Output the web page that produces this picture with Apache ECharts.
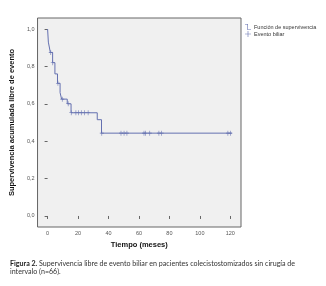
<!DOCTYPE html>
<html>
<head>
<meta charset="utf-8">
<script src="https://cdn.jsdelivr.net/npm/echarts@6/dist/echarts.min.js"></script>
<style>
  html, body { margin: 0; padding: 0; background: #fff; }
  #chart { width: 326px; height: 286px; }
</style>
</head>
<body>
<div id="chart"></div>
<script>
// Kaplan-Meier steps (time in months, survival after the drop)
var stepTimes = [0, 0.5, 1.8, 3.3, 4.8, 6.5, 8.2, 9.2, 12.9, 15.4, 32.6, 35.4, 121];
var stepSurv  = [1, 0.93, 0.875, 0.82, 0.76, 0.71, 0.66, 0.625, 0.60, 0.552, 0.515, 0.443, 0.443];

// censored cases
var censorTimes = [2.1, 3.4, 6.8, 9.6, 13.5, 15.5, 18.6, 20.4, 22.1, 24.2, 26.6, 35.6,
                   48.2, 50.2, 52.1, 63.3, 64.3, 67.1, 73.1, 74.9, 118.4, 120];
var censorSurv  = [0.875, 0.82, 0.71, 0.625, 0.60, 0.552, 0.552, 0.552, 0.552, 0.552, 0.552, 0.443,
                   0.443, 0.443, 0.443, 0.443, 0.443, 0.443, 0.443, 0.443, 0.443, 0.443];

var xTicks = [0, 20, 40, 60, 80, 100, 120];
var yTicks = [0, 0.2, 0.4, 0.6, 0.8, 1.0];

var lineColor = '#6470b0';

var myChart = echarts.init(document.getElementById('chart'));

var option = {
    animation: false,
    textStyle: { fontFamily: 'Liberation Sans' },
    grid: {
        left: 33, top: 18, width: 208, height: 209,
        show: true,
        backgroundColor: '#f0f0f0',
        borderColor: '#666',
        borderWidth: 1
    },
    legend: {
        orient: 'vertical',
        left: 240, top: 19,
        itemWidth: 10, itemHeight: 6, itemGap: 1,
        itemStyle: { color: lineColor, borderWidth: 0, opacity: 1 },
        lineStyle: { color: lineColor, width: 0 },
        textStyle: { fontSize: 5.5, color: '#333', padding: [0, 0, 0, -4] },
        data: [
            { name: 'Función de supervivencia', icon: 'path://M0,0H5V9H10V10H4V1H0Z' },
            { name: 'Evento biliar', icon: 'path://M0,4.5H10V5.5H0Z M4.5,0H5.5V10H4.5Z' }
        ]
    },
    xAxis: {
        type: 'value',
        min: -6.6, max: 127,
        name: 'Tiempo (meses)',
        nameLocation: 'middle',
        nameGap: 13,
        nameTextStyle: { fontSize: 7.5, fontWeight: 'bold', color: '#111' },
        axisLine: { show: false },
        splitLine: { show: false },
        axisTick: { show: true, length: 3, customValues: xTicks, lineStyle: { color: '#666' } },
        axisLabel: { customValues: xTicks, fontSize: 5.5, color: '#555', margin: 3 }
    },
    yAxis: {
        type: 'value',
        min: -0.059, max: 1.059,
        name: 'Supervivencia acumulada libre de evento',
        nameLocation: 'middle',
        nameGap: 17,
        nameTextStyle: { fontSize: 7.5, fontWeight: 'bold', color: '#111' },
        axisLine: { show: false },
        splitLine: { show: false },
        axisTick: { show: true, length: 3, customValues: yTicks, lineStyle: { color: '#666' } },
        axisLabel: {
            customValues: yTicks, fontSize: 5.5, color: '#555', margin: 3,
            formatter: function (v) { return v.toFixed(1).replace('.', ','); }
        }
    },
    series: [
        {
            name: 'Función de supervivencia',
            type: 'line',
            step: 'end',
            symbol: 'none',
            color: lineColor,
            lineStyle: { width: 1, color: lineColor },
            data: stepTimes.map(function (t, i) { return [t, stepSurv[i]]; })
        },
        {
            name: 'Evento biliar',
            type: 'scatter',
            symbol: 'path://M4.3,0H5.7V10H4.3Z M0,4.4H10V5.6H0Z',
            symbolSize: [4, 5],
            color: lineColor,
            itemStyle: { color: lineColor, opacity: 1 },
            data: censorTimes.map(function (t, i) { return [t, censorSurv[i]]; })
        }
    ],
    graphic: [
        {
            type: 'text',
            left: 10, top: 259,
            style: {
                text: '{b|Figura 2.} Supervivencia libre de evento biliar en pacientes colecistostomizados sin cirugía de\nintervalo (n=66).',
                fontFamily: 'Lato',
                fontSize: 7.1,
                lineHeight: 8.5,
                fill: '#333',
                rich: {
                    b: { fontFamily: 'Lato', fontSize: 7.1, fontWeight: 'bold', fill: '#222' }
                }
            }
        }
    ]
};

myChart.setOption(option);
</script>
</body>
</html>
